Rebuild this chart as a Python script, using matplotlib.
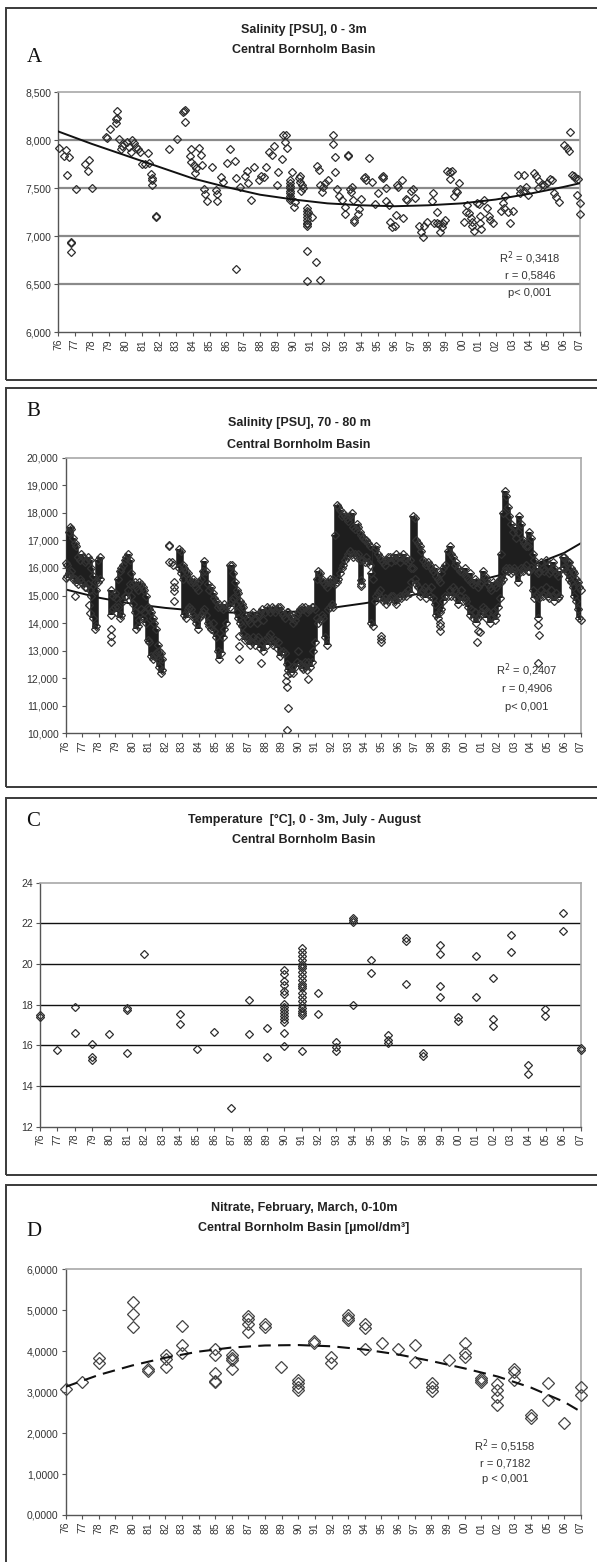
import numpy as np
import matplotlib
matplotlib.use('Agg')
import matplotlib.pyplot as plt
from matplotlib.patches import Rectangle

plt.rcParams['font.family'] = ['Liberation Sans', 'DejaVu Sans']

# ---------------- data ----------------
YEARS = list(range(1976, 2008))
YEAR_LABELS = [f"{y % 100:02d}" for y in YEARS]

# Panel A: salinity 0-3 m  (x = years after 1976, y = PSU)
A_x = [0.06, 0.46, 0.36, 0.65, 0.55, 0.79, 0.79, 0.79, 1.05, 1.6, 1.84, 1.78, 2.04, 2.83, 2.89, 3.09,
       3.49, 3.43, 3.53, 3.45, 3.62, 3.72, 3.82, 3.92, 4.08, 4.22, 4.32, 4.42, 4.52, 4.62, 4.75, 4.87,
       5.01, 5.17, 5.35, 5.43, 5.5, 5.56, 5.6, 5.56, 5.82, 5.84, 6.59, 7.09, 7.49, 7.45, 7.53, 7.53,
       7.88, 7.84, 7.92, 8.38, 8.48, 8.08, 8.12, 8.22, 8.57, 8.67, 8.71, 8.83, 9.13, 9.41, 9.47, 9.47,
       9.66, 9.82, 10.06, 10.2, 10.5, 10.6, 10.55, 10.81, 11.1, 11.25, 11.3, 11.49, 11.64, 11.94, 12.08,
       12.24, 12.34, 12.53, 12.73, 12.83, 13.03, 13.09,
       13.34, 13.54, 13.5, 13.62, 13.28, 13.87, 13.77, 13.77, 13.77, 13.77, 13.77, 13.77, 13.77, 13.77,
       13.77, 14.01, 14.07, 14.37, 14.47, 14.53, 14.41, 14.33, 14.4, 14.77, 14.77, 14.77, 14.77, 14.77,
       14.77, 14.77, 14.77, 14.87, 15.06, 14.8, 15.32, 14.8, 15.56, 15.36, 15.52, 15.56, 15.66, 15.76,
       15.86, 16.05, 16.35, 16.35, 16.45, 16.45, 16.58, 16.7, 16.84, 17.04, 17.04, 17.24, 17.22, 17.34,
       17.38, 17.44, 17.5, 17.58, 17.6, 17.83, 17.89, 17.99, 18.18, 18.32, 18.26, 18.49, 18.62, 18.82,
       19.02, 19.22, 19.32, 19.28, 19.48, 19.5, 19.66, 19.72, 19.86, 20.02, 20.1, 20.16, 20.2, 20.41,
       20.5, 20.69, 20.75, 20.99, 21.09, 21.19, 21.45, 21.53, 21.65, 21.73, 21.89, 22.19, 22.29, 22.33,
       22.48, 22.52, 22.64, 22.78, 22.69, 22.88, 22.99, 23.09, 23.25, 23.29, 23.39, 23.51, 23.61, 23.71,
       23.81, 24.11, 24.21, 24.26, 24.4, 24.54, 24.57, 24.6, 24.7, 24.86,
       24.98, 25.04, 25.08, 25.12, 25.28, 25.47, 25.57, 25.67, 25.83, 26.31, 26.42, 26.56, 26.46, 26.7,
       26.82, 27.02, 27.3, 27.65, 27.41, 27.45, 27.65, 27.81, 27.89, 28.25, 28.4, 28.54, 28.48, 28.74,
       28.84, 29.04, 29.2, 29.33, 29.47, 29.59, 29.73, 30.07, 30.22, 30.32, 30.38, 30.52, 30.62, 30.72,
       30.86, 30.82, 31.0, 31.0]
A_y = [7.92, 7.90, 7.83, 7.82, 7.64, 6.94, 6.93, 6.83, 7.49, 7.75, 7.79, 7.68, 7.50, 8.03, 8.02, 8.11,
       8.30, 8.22, 8.23, 8.18, 8.01, 7.91, 7.94, 7.96, 7.98, 7.93, 7.87, 8.00, 7.97, 7.93, 7.91, 7.87,
       7.75, 7.75, 7.86, 7.76, 7.65, 7.60, 7.58, 7.53, 7.21, 7.20, 7.91, 8.01, 8.30, 8.29, 8.31, 8.19,
       7.91, 7.83, 7.77, 7.92, 7.84, 7.74, 7.66, 7.71, 7.74, 7.49, 7.44, 7.36, 7.72, 7.48, 7.44, 7.36,
       7.61, 7.56, 7.76, 7.91, 7.78, 7.60, 6.66, 7.51, 7.63, 7.68, 7.55, 7.38, 7.72, 7.58, 7.63,
       7.61, 7.72, 7.87, 7.84, 7.94, 7.53, 7.67,
       8.05, 8.05, 7.98, 7.92, 7.80, 7.67, 7.58, 7.55, 7.52, 7.50, 7.47, 7.45, 7.42, 7.40,
       7.37, 7.30, 7.35, 7.56, 7.53, 7.50, 7.47, 7.60, 7.62, 7.29, 7.26, 7.23, 7.20, 7.17,
       7.14, 7.12, 7.10, 7.25, 7.20, 6.84, 6.73, 6.53, 6.54, 7.73, 7.69, 7.53, 7.46, 7.51,
       7.55, 7.58, 8.05, 7.96, 7.82, 7.67, 7.49, 7.42, 7.37, 7.30, 7.23, 7.84, 7.83, 7.49,
       7.46, 7.51, 7.37, 7.17, 7.15, 7.23, 7.28, 7.39, 7.60, 7.58, 7.61, 7.81, 7.56, 7.33,
       7.45, 7.61, 7.60, 7.62, 7.50, 7.36, 7.32, 7.15, 7.09, 7.10, 7.22, 7.53, 7.51, 7.58,
       7.19, 7.39, 7.37, 7.47, 7.49, 7.40, 7.10, 7.04, 6.99, 7.10, 7.15, 7.36, 7.45, 7.14,
       7.25, 7.14, 7.12, 7.09, 7.04, 7.14, 7.17, 7.68, 7.67, 7.59, 7.68, 7.42, 7.47, 7.46,
       7.55, 7.15, 7.25, 7.32, 7.24, 7.19, 7.10, 7.15, 7.05, 7.34,
       7.33, 7.21, 7.14, 7.07, 7.38, 7.29, 7.21, 7.17, 7.14, 7.26, 7.34, 7.42, 7.29, 7.25,
       7.14, 7.26, 7.64, 7.64, 7.45, 7.49, 7.47, 7.51, 7.43, 7.66, 7.62, 7.57, 7.50, 7.54,
       7.53, 7.55, 7.59, 7.58, 7.45, 7.41, 7.35, 7.95, 7.92, 7.89, 8.08, 7.64, 7.62, 7.60,
       7.59, 7.43, 7.34, 7.23]
A_trend_x = [0, 2, 4, 6, 8, 10, 12, 14, 16, 18, 20, 22, 24, 26, 28, 30, 31]
A_trend_y = [8.09, 7.96, 7.84, 7.72, 7.60, 7.51, 7.43, 7.38, 7.34, 7.32, 7.31, 7.32, 7.34, 7.38, 7.44, 7.51, 7.55]

# Panel B: salinity 70-80 m, dense sampling read as vertical ranges per cruise
B_x = [0.0, 0.1, 0.2, 0.27, 0.35, 0.45, 0.55, 0.65, 0.75, 0.85, 0.95, 1.05, 1.15, 1.25, 1.35, 1.45,
       1.55, 1.65, 1.75, 1.85, 1.95, 2.05,
       2.75, 2.85, 2.95, 3.05, 3.15, 3.25, 3.35, 3.45, 3.55, 3.65, 3.75, 3.85, 3.95, 4.05, 4.15, 4.25,
       4.35, 4.45, 4.55, 4.65, 4.75, 4.85, 4.95, 5.05, 5.15, 5.25, 5.35, 5.45, 5.55, 5.65, 5.75, 5.82,
       6.85, 6.95, 7.05, 7.15, 7.25, 7.35, 7.45, 7.55, 7.65, 7.75, 7.85, 7.95, 8.05, 8.15, 8.25, 8.35,
       8.45, 8.55, 8.65, 8.75, 8.85, 8.95, 9.05, 9.15, 9.25, 9.35, 9.45, 9.55, 9.65,
       9.9, 10.0, 10.1, 10.2, 10.3, 10.4, 10.5, 10.6, 10.7, 10.8, 10.9, 11.0, 11.1, 11.2, 11.3, 11.4,
       11.5, 11.6, 11.7, 11.8, 11.9, 12.0, 12.1, 12.2, 12.3, 12.4, 12.5, 12.6, 12.7, 12.8,
       12.9, 13.0, 13.1, 13.2, 13.3, 13.4, 13.5, 13.6, 13.7, 13.8, 13.9, 14.0, 14.1, 14.2, 14.3, 14.4,
       14.5, 14.6, 14.7, 14.8, 14.9, 15.0, 15.1, 15.2, 15.3, 15.4, 15.5, 15.6, 15.7, 15.8, 15.9, 16.0,
       16.1, 16.2, 16.3, 16.4, 16.5, 16.6, 16.7, 16.8, 16.9, 17.0, 17.1, 17.2, 17.3, 17.4, 17.5, 17.6,
       17.7, 17.8, 17.9, 18.0, 18.1, 18.2, 18.3, 18.4, 18.5, 18.6, 18.7, 18.8, 18.9, 19.0, 19.1, 19.2,
       19.3, 19.4, 19.5, 19.6, 19.7, 19.8, 19.9, 20.0, 20.1, 20.2, 20.3, 20.4, 20.5, 20.6, 20.7, 20.8,
       20.9, 21.0, 21.1, 21.2, 21.3, 21.4, 21.5, 21.6, 21.7, 21.8, 21.9, 22.0, 22.1, 22.2, 22.3, 22.4,
       22.5, 22.6, 22.7, 22.8, 23.0, 23.1, 23.2, 23.3, 23.4, 23.5, 23.6, 23.7, 23.8, 23.9, 24.0, 24.1,
       24.2, 24.3, 24.4, 24.5, 24.6, 24.7, 24.8, 24.9, 25.0, 25.1, 25.2, 25.3, 25.4, 25.5, 25.6, 25.7,
       25.8, 25.9, 26.0, 26.1, 26.2, 26.3, 26.4, 26.5, 26.6, 26.7, 26.8, 26.9, 27.0, 27.1, 27.2, 27.3,
       27.4, 27.5, 27.6, 27.7, 27.8, 27.9, 28.0, 28.1, 28.2, 28.3, 28.4, 28.5, 28.6, 28.7, 28.8, 28.9,
       29.0, 29.1, 29.2, 29.3, 29.4, 29.5, 29.6, 29.7, 29.9, 30.0, 30.1, 30.2, 30.3, 30.4, 30.5, 30.6,
       30.7, 30.8, 30.9, 31.0]
B_lo = [15.64, 15.7, 15.8, 15.76, 15.9, 15.6, 15.6, 15.5, 15.4, 15.6, 15.5, 15.4, 15.3, 15.3, 15.4, 15.2,
        15.0, 14.2, 13.8, 13.9, 15.5, 15.6,
        14.3, 14.5, 14.6, 14.4, 14.6, 14.2, 14.3, 14.8, 15.0, 15.0, 15.2, 15.4, 15.0, 14.7, 14.4, 13.8,
        13.9, 14.1, 14.5, 14.2, 14.4, 14.0, 13.4, 13.3, 12.8, 12.7, 12.8, 12.9, 12.7, 12.4, 12.2, 12.3,
        16.0, 15.8, 15.6, 14.3, 14.2, 14.5, 14.6, 14.5, 14.3, 14.2, 14.0, 13.8, 14.2, 14.3, 14.4, 14.5,
        14.3, 14.0, 13.9, 13.8, 14.0, 13.7, 13.5, 13.0, 12.7, 12.9, 13.5, 13.8, 14.0,
        14.6, 14.8, 14.9, 14.7, 14.4, 14.2, 14.0, 13.9, 13.6, 13.4, 13.5, 13.4, 13.2, 13.3, 13.5, 13.2,
        13.4, 13.5, 13.1, 13.3, 13.0, 13.4, 13.2, 13.5, 13.6, 13.3, 13.2, 13.4, 13.1, 13.3,
        12.8, 12.9, 13.0, 12.9, 12.5, 12.3, 12.2, 12.4, 12.2, 12.4, 12.6, 13.0, 12.5, 12.4, 12.35, 12.6,
        12.3, 12.6, 12.4, 12.6, 13.0, 13.3, 14.2, 14.0, 14.1, 14.3, 14.2, 13.5, 13.2, 14.5, 14.6, 14.7,
        14.6, 15.4, 15.5, 15.6, 15.8, 16.0, 16.1, 16.3, 16.4, 16.5, 16.6, 16.5, 16.4, 16.5, 16.4, 16.5,
        16.3, 15.4, 16.3, 16.2, 16.4, 16.2, 16.1, 14.0, 13.9, 14.8, 15.0, 15.1, 15.2, 14.9, 14.8, 14.9,
        14.7, 14.8, 14.9, 15.0, 15.0, 14.8, 14.7, 14.9, 15.0, 14.9, 15.0, 15.1, 15.0, 15.2, 15.1, 15.5,
        16.0, 15.6, 15.4, 15.3, 15.0, 15.1, 15.2, 15.3, 14.9, 15.2, 15.0, 15.3, 14.9, 14.7, 14.3, 14.2,
        14.4, 14.5, 14.8, 15.0, 15.0, 15.2, 15.0, 15.3, 15.2, 14.9, 14.7, 15.0, 15.2, 14.8, 14.9, 14.8,
        14.6, 14.3, 14.5, 14.2, 14.4, 14.0, 14.2, 14.3, 14.4, 14.6, 14.5, 14.2, 14.4, 14.0, 14.2, 14.4,
        14.1, 14.3, 14.6, 14.9, 15.5, 15.6, 15.9, 16.0, 15.9, 16.0, 15.8, 15.9, 16.0, 15.9, 15.5, 15.8,
        16.0, 15.9, 16.0, 16.1, 15.9, 15.9, 16.0, 15.2, 14.9, 15.0, 14.2, 14.9, 15.2, 15.0, 15.1, 15.3,
        15.0, 14.9, 15.2, 15.0, 14.8, 15.1, 14.9, 15.0, 16.0, 16.0, 15.9, 15.8, 15.6, 15.5, 15.3, 15.0,
        14.8, 14.5, 14.2, 14.1]
B_hi = [16.18, 16.1, 17.3, 17.5, 17.4, 17.1, 16.9, 16.8, 16.4, 16.3, 16.5, 16.4, 16.2, 16.3, 16.4, 16.3,
        16.0, 15.7, 15.5, 15.2, 16.3, 16.4,
        15.2, 15.0, 15.1, 14.9, 15.6, 15.9, 16.0, 16.1, 16.3, 16.4, 16.5, 16.3, 15.8, 15.4, 15.5, 15.3,
        15.2, 15.5, 15.4, 15.3, 15.2, 15.0, 14.6, 14.5, 14.4, 14.2, 14.0, 13.8, 13.2, 13.0, 12.9, 12.7,
        16.7, 16.6, 16.1, 16.0, 15.9, 15.8, 15.6, 15.5, 15.6, 15.5, 15.3, 15.2, 15.5, 15.6, 15.9, 16.24,
        15.9, 15.4, 15.2, 15.3, 15.1, 14.9, 14.8, 14.6, 14.7, 14.6, 14.5, 14.7, 14.6,
        16.1, 16.12, 15.8, 15.5, 15.2, 15.1, 14.8, 14.7, 14.6, 14.3, 14.2, 14.1, 14.0, 14.3, 14.4, 14.2,
        14.0, 14.3, 14.4, 14.5, 14.1, 14.4, 14.6, 14.5, 14.4, 14.6, 14.5, 14.4, 14.5, 14.6,
        14.6, 14.4, 14.3, 14.2, 14.4, 14.4, 14.3, 14.2, 14.0, 14.1, 14.3, 14.4, 14.5, 14.6, 14.5, 14.6,
        14.4, 14.5, 14.5, 14.6, 14.6, 14.5, 15.6, 15.9, 15.8, 15.6, 15.5, 15.4, 15.3, 15.5, 15.6, 15.5,
        15.6, 17.2, 18.3, 18.2, 18.1, 17.9, 18.0, 17.9, 17.8, 17.7, 17.9, 18.0, 17.5, 17.4, 17.6, 17.5,
        17.3, 17.2, 17.1, 17.0, 17.0, 16.9, 16.8, 15.8, 15.6, 16.7, 16.8, 16.5, 16.4, 16.3, 16.2, 16.1,
        16.3, 16.4, 16.4, 16.2, 16.4, 16.3, 16.5, 16.4, 16.2, 16.4, 16.5, 16.3, 16.4, 16.2, 16.3, 16.0,
        17.9, 17.8, 17.0, 16.9, 16.8, 16.6, 16.3, 16.2, 16.1, 16.2, 16.1, 16.0, 15.9, 16.0, 15.7, 15.6,
        15.5, 15.8, 16.0, 16.1, 16.6, 16.8, 16.5, 16.4, 16.1, 16.2, 16.0, 15.9, 15.9, 15.8, 16.0, 15.7,
        15.6, 15.8, 15.5, 15.4, 15.6, 15.5, 15.3, 15.4, 15.5, 15.9, 15.7, 15.6, 15.4, 15.3, 15.2, 15.5,
        15.4, 15.3, 15.5, 15.6, 16.5, 18.0, 18.8, 18.6, 18.2, 17.9, 17.6, 17.3, 17.5, 17.1, 17.3, 17.9,
        17.6, 17.0, 16.9, 16.8, 16.8, 17.3, 17.1, 16.5, 16.3, 16.0, 15.8, 15.9, 16.2, 16.0, 15.9, 16.3,
        16.1, 15.8, 15.9, 16.2, 16.0, 15.8, 15.7, 15.9, 16.4, 16.4, 16.3, 16.2, 16.2, 16.0, 15.9, 15.8,
        15.6, 15.5, 15.3, 15.2]
# isolated B observations outside the dense bands
B_out_x = [0.6, 1.4, 1.45, 2.75, 2.75, 2.75, 6.2, 6.22, 6.2, 6.4, 6.45, 6.5, 6.5, 6.5, 6.55,
           10.45, 10.45, 10.45, 11.74, 13.28, 13.3, 13.34, 13.4, 13.34, 14.4, 14.6,
           17.8, 17.8, 18.95, 18.95, 18.95, 22.5, 22.5, 22.5, 24.8, 24.95, 24.75,
           28.4, 28.45, 28.4]
B_out_y = [15.0, 14.65, 14.36, 13.78, 13.54, 13.33, 16.85, 16.8, 16.2, 16.2, 16.1, 15.5, 15.3, 15.16, 14.8,
           13.54, 13.18, 12.7, 12.56, 11.9, 12.1, 11.68, 10.92, 10.12, 12.4, 11.98,
           15.58, 15.34, 13.54, 13.3, 13.42, 13.9, 13.72, 14.0, 13.72, 13.66, 13.33,
           13.93, 13.55, 12.54]
B_trend_x = [0, 2, 4, 6, 8, 10, 12, 14, 16, 18, 20, 22, 24, 26, 28, 30, 31]
B_trend_y = [15.22, 14.92, 14.70, 14.55, 14.44, 14.38, 14.37, 14.42, 14.55, 14.72, 14.92, 15.15, 15.42,
             15.72, 16.08, 16.55, 16.90]

# Panel C: temperature 0-3 m, July-August
C_x = [0, 0, 0.98, 2.0, 2.0, 3.0, 3.0, 3.0, 3.98, 4.97, 4.97, 4.97, 5.95, 8.03, 8.03, 9.02, 10.0, 10.98,
       11.97, 11.97, 13.0, 13.0,
       14.0, 14.0, 14.0, 14.0, 14.0, 14.0, 14.0, 14.0, 14.0, 14.0, 14.0, 14.0, 14.0, 14.0, 14.0,
       15.03, 15.03, 15.03, 15.03, 15.03, 15.03, 15.03, 15.03, 15.03, 15.03, 15.03, 15.03, 15.03, 15.03,
       15.03, 15.03, 15.03, 15.03, 15.03, 15.03, 15.03, 15.03,
       15.97, 15.97, 16.97, 16.97, 16.97, 17.98, 17.98, 17.98, 17.98, 19.0, 19.0, 19.97, 19.97, 19.97,
       21.0, 21.0, 21.0, 21.99, 21.99, 22.97, 22.97, 22.97, 22.97, 24.0, 24.0, 25.0, 25.0, 26.0, 26.0,
       26.0, 26.99, 26.99, 27.99, 27.99, 28.98, 28.98, 30.0, 30.0, 31.0, 31.0]
C_y = [17.4, 17.5, 15.77, 17.87, 16.59, 16.05, 15.41, 15.28, 16.54, 17.82, 17.74, 15.61, 20.48, 17.52,
       17.05, 15.82, 16.67, 12.9, 18.23, 16.54, 16.84, 15.44,
       19.7, 19.5, 19.18, 18.95, 18.69, 18.55, 18.05, 17.9, 17.75, 17.6, 17.45, 17.3, 17.16, 16.59, 15.97,
       20.77, 20.6, 20.4, 20.2, 20.0, 19.8, 19.6, 19.4, 19.2, 19.0, 18.8, 18.6, 18.4, 18.2,
       18.0, 17.85, 17.7, 17.6, 17.5, 15.72, 19.9, 18.9,
       18.59, 17.52, 16.18, 15.93, 15.72, 22.28, 22.16, 22.08, 17.98, 20.2, 19.54, 16.51, 16.26, 16.13,
       21.26, 21.15, 19.0, 15.61, 15.48, 20.93, 20.48, 18.92, 18.39, 17.41, 17.21, 20.41, 18.39, 19.3,
       17.28, 16.95, 21.43, 20.61, 15.03, 14.59, 17.79, 17.44, 22.52, 21.62, 15.85, 15.77]

# Panel D: nitrate Feb-Mar, 0-10 m
D_x = [0, 0.98, 2.02, 2.02, 4.03, 4.03, 4.03, 4.99, 4.99, 6.03, 6.03, 6.03, 7.0, 7.0, 7.0, 9.0, 9.0, 9.0,
       9.0, 9.0, 9.99, 9.99, 9.99, 9.99, 11.0, 11.0, 11.0, 11.0, 11.98, 11.98, 12.97, 14.0, 14.0, 14.0,
       14.0, 14.96, 14.96, 15.99, 15.99, 16.98, 16.98, 16.98, 18.0, 18.0, 18.0, 19.01, 20.0, 21.03,
       21.03, 22.01, 22.01, 22.01, 23.04, 24.0, 24.0, 24.0, 25.0, 25.0, 25.0, 25.96, 25.96, 25.96,
       25.96, 26.99, 26.99, 26.99, 27.97, 27.97, 29.0, 29.0, 29.97, 31.0, 31.0]
D_y = [3.07, 3.26, 3.83, 3.72, 5.21, 4.92, 4.58, 3.56, 3.52, 3.91, 3.80, 3.61, 4.62, 4.15, 3.95, 4.05,
       3.91, 3.46, 3.28, 3.24, 3.91, 3.83, 3.56, 3.78, 4.86, 4.78, 4.67, 4.48, 4.66, 4.60, 3.62, 3.30,
       3.23, 3.13, 3.05, 4.26, 4.21, 3.87, 3.72, 4.88, 4.80, 4.75, 4.66, 4.56, 4.05, 4.21, 4.05, 4.15,
       3.74, 3.23, 3.13, 3.03, 3.78, 4.21, 3.95, 3.87, 3.34, 3.30, 3.26, 3.20, 2.89, 2.69, 3.05, 3.56,
       3.30, 3.50, 2.44, 2.38, 3.23, 2.82, 2.24, 3.13, 2.93]
D_trend_x = [0, 2, 4, 6, 8, 10, 12, 14, 16, 18, 20, 22, 24, 26, 28, 30, 31]
D_trend_y = [3.13, 3.42, 3.65, 3.84, 3.99, 4.09, 4.14, 4.15, 4.12, 4.04, 3.92, 3.76, 3.58, 3.38, 3.11, 2.76, 2.52]

TITLES = {
    'A': ("Salinity [PSU], 0 - 3m", "Central Bornholm Basin"),
    'B': ("Salinity [PSU], 70 - 80 m", "Central Bornholm Basin"),
    'C': ("Temperature  [\u00b0C], 0 - 3m, July - August", "Central Bornholm Basin"),
    'D': ("Nitrate, February, March, 0-10m", "Central Bornholm Basin [\u00b5mol/dm\u00b3]"),
}
STATS = {
    'A': ("R$^2$ = 0,3418", "r = 0,5846", "p< 0,001"),
    'B': ("R$^2$ = 0,2407", "r = 0,4906", "p< 0,001"),
    'D': ("R$^2$ = 0,5158", "r = 0,7182", "p < 0,001"),
}

# ---------------- layout (pixels) ----------------
W, H = 597, 1562
fig = plt.figure(figsize=(W / 100, H / 100), dpi=100)
fig.patch.set_facecolor('white')


def fx(px):
    return px / W


def fy(py):
    return 1 - py / H


def frame(top, bottom):
    fig.add_artist(Rectangle((fx(5.5), fy(bottom)), fx(W + 20 - 5.5), (bottom - top) / H,
                             transform=fig.transFigure, fill=False, edgecolor='#3a3a3a', lw=1.4))


def make_ax(l, r, t, b):
    ax = fig.add_axes([fx(l), fy(b), (r - l) / W, (b - t) / H])
    ax.set_xlim(0, 31)
    ax.set_xticks(range(len(YEARS)))
    ax.set_xticklabels(YEAR_LABELS, rotation=90, fontsize=7.5, color='#333333')
    ax.tick_params(axis='both', direction='out', length=3, width=0.8, color='#555555',
                   labelsize=7.5, labelcolor='#333333', pad=2)
    for s in ('left', 'bottom'):
        ax.spines[s].set_color('#555555')
        ax.spines[s].set_linewidth(1.0)
    for s in ('top', 'right'):
        ax.spines[s].set_color('#a8a8a8')
        ax.spines[s].set_linewidth(1.2)
    return ax


def titles(key, cx, y1, y2, lx, ly):
    t1, t2 = TITLES[key]
    fig.text(fx(cx), fy(y1), t1, ha='center', va='center', fontsize=9, fontweight='bold', color='#222222')
    fig.text(fx(cx), fy(y2), t2, ha='center', va='center', fontsize=9, fontweight='bold', color='#222222')
    fig.text(fx(lx), fy(ly), key, ha='center', va='center', fontsize=15,
             family=['Liberation Serif', 'DejaVu Serif'], color='#111111')


def stats(key, cx, ys):
    for s, y in zip(STATS[key], ys):
        fig.text(fx(cx), fy(y), s, ha='center', va='center', fontsize=8, color='#333333')


# ---------------- Panel A ----------------
frame(8, 380)
axA = make_ax(58, 580, 92, 332)
axA.set_ylim(6.0, 8.5)
yt = [6.0, 6.5, 7.0, 7.5, 8.0, 8.5]
axA.set_yticks(yt)
axA.set_yticklabels([f"{v:.3f}".replace('.', ',') for v in yt])
for v in yt[1:-1]:
    axA.axhline(v, color='#8a8a8a', lw=1.6, zorder=1)
axA.plot(A_x, A_y, 'D', ms=4.2, mfc='none', mec='#2e2e2e', mew=0.9, zorder=3, clip_on=False)
axA.plot(A_trend_x, A_trend_y, '-', color='#111111', lw=1.4, zorder=4)
titles('A', 304, 30, 50, 34, 57)
stats('A', 530, (258, 275, 293))

# ---------------- Panel B ----------------
frame(388, 787)
axB = make_ax(65.5, 581, 457.7, 733.3)
axB.set_ylim(10, 20)
yt = list(range(10, 21))
axB.set_yticks(yt)
axB.set_yticklabels([f"{v:.3f}".replace('.', ',') for v in yt])
axB.plot(B_trend_x, B_trend_y, '-', color='#111111', lw=1.4, zorder=2)
axB.vlines(B_x, B_lo, B_hi, color='#1e1e1e', lw=4.0, zorder=3)
axB.plot(B_x, B_lo, 'D', ms=4.0, mfc='none', mec='#333333', mew=0.9, zorder=4, clip_on=False)
axB.plot(B_x, B_hi, 'D', ms=4.0, mfc='none', mec='#333333', mew=0.9, zorder=4, clip_on=False)
axB.plot(B_out_x, B_out_y, 'D', ms=4.0, mfc='none', mec='#333333', mew=0.9, zorder=4)
titles('B', 299, 423, 445, 33, 411)
stats('B', 527, (670, 688, 707))

# ---------------- Panel C ----------------
frame(798, 1175)
axC = make_ax(40, 580.5, 882.7, 1126.7)
axC.set_ylim(12, 24)
yt = list(range(12, 25, 2))
axC.set_yticks(yt)
axC.set_yticklabels([str(v) for v in yt])
for v in yt[1:-1]:
    axC.axhline(v, color='#111111', lw=1.0, zorder=1)
axC.plot(C_x, C_y, 'D', ms=4.2, mfc='none', mec='#2e2e2e', mew=0.9, zorder=3, clip_on=False)
titles('C', 304, 820, 840, 33, 822)

# ---------------- Panel D ----------------
frame(1185, 1600)
axD = make_ax(65.5, 581, 1269.3, 1515)
axD.set_ylim(0, 6)
yt = list(range(0, 7))
axD.set_yticks(yt)
axD.set_yticklabels([f"{v:.4f}".replace('.', ',') for v in yt])
axD.plot(D_x, D_y, 'D', ms=6.5, mfc='none', mec='#444444', mew=0.9, zorder=3, clip_on=False)
axD.plot(D_trend_x, D_trend_y, '--', color='#111111', lw=1.5, dashes=(6, 3.5), zorder=4)
titles('D', 304, 1208, 1228, 34, 1232)
stats('D', 505, (1446, 1463, 1479))

fig.savefig('out.png', dpi=100, facecolor='white')
